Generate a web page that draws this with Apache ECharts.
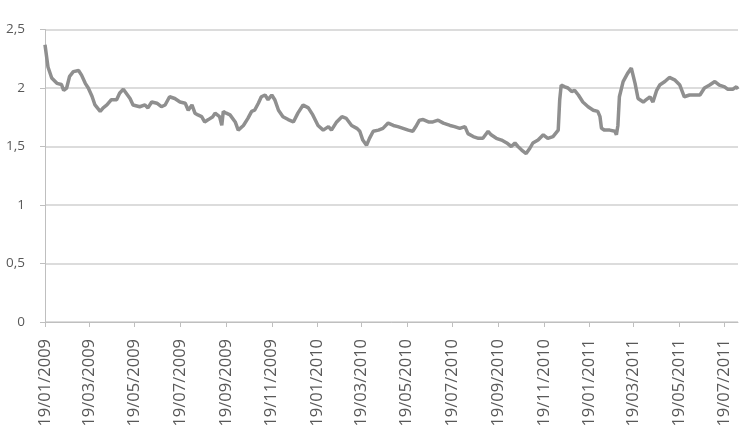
<!DOCTYPE html>
<html>
<head>
<meta charset="utf-8">
<script src="https://cdn.jsdelivr.net/npm/echarts@6/dist/echarts.min.js"></script>
<style>
  html, body { margin: 0; padding: 0; background: #fff; }
  #main { width: 743px; height: 435px; }
</style>
</head>
<body>
<div id="main"></div>
<script>
// first day on the axis and number of days shown
const startDate = [2009, 0, 19];
const dayCount = 930;

// x of each reading = days after 19/01/2009
const dayOffsets = [
  0, 4, 9, 16, 22, 25, 29, 33, 38, 45, 49, 54, 58, 63, 67, 74, 78, 83, 89, 96,
  100, 105, 107, 114, 118, 127, 134, 138, 143, 150, 156, 161, 167, 174, 181, 188, 192, 197, 201, 205,
  210, 214, 219, 225, 228, 234, 237, 239, 243, 248, 255, 259, 266, 272, 277, 281, 286, 290, 295, 299,
  304, 308, 313, 319, 326, 333, 339, 346, 353, 359, 366, 373, 380, 384, 391, 398, 404, 411, 418, 422,
  426, 431, 435, 440, 447, 453, 460, 467, 473, 480, 487, 493, 498, 502, 507, 514, 520, 527, 534, 543,
  549, 556, 563, 567, 574, 581, 587, 594, 598, 605, 612, 619, 625, 630, 634, 639, 645, 650, 654, 661,
  668, 674, 681, 683, 688, 690, 692, 697, 701, 706, 710, 715, 721, 728, 735, 741, 744, 746, 750, 757,
  764, 766, 768, 770, 775, 781, 786, 791, 795, 802, 806, 811, 815, 820, 824, 831, 837, 844, 851, 857,
  864, 871, 878, 884, 891, 898, 904, 911, 915, 922, 927, 929
];

const values = [
  2.37, 2.18, 2.085, 2.04, 2.03, 1.98, 2.0, 2.10, 2.14, 2.15, 2.11, 2.04, 2.0, 1.93, 1.855, 1.80, 1.83, 1.855, 1.90, 1.90,
  1.955, 1.99, 2.0, 1.91, 1.855, 1.84, 1.855, 1.83, 1.88, 1.87, 1.84, 1.855, 1.925, 1.91, 1.88, 1.87, 1.81, 1.855, 1.785, 1.77,
  1.755, 1.71, 1.73, 1.755, 1.785, 1.755, 1.68, 1.80, 1.785, 1.77, 1.71, 1.64, 1.68, 1.74, 1.80, 1.81, 1.87, 1.925, 1.94, 1.90,
  1.94, 1.90, 1.81, 1.755, 1.73, 1.71, 1.785, 1.855, 1.83, 1.77, 1.68, 1.64, 1.67, 1.64, 1.71, 1.755, 1.74, 1.68, 1.655, 1.63,
  1.555, 1.51, 1.57, 1.63, 1.64, 1.655, 1.70, 1.68, 1.67, 1.655, 1.64, 1.63, 1.68, 1.725, 1.73, 1.71, 1.71, 1.725, 1.70, 1.68,
  1.67, 1.655, 1.67, 1.61, 1.585, 1.57, 1.57, 1.63, 1.60, 1.57, 1.555, 1.53, 1.50, 1.53, 1.50, 1.47, 1.44, 1.485, 1.53, 1.555,
  1.60, 1.57, 1.585, 1.57, 1.64, 1.90, 2.025, 2.01, 2.0, 1.97, 1.98, 1.94, 1.88, 1.84, 1.81, 1.80, 1.755, 1.655, 1.64, 1.64,
  1.63, 1.60, 1.68, 1.925, 2.055, 2.125, 2.17, 2.04, 1.91, 1.88, 1.90, 1.925, 1.88, 1.98, 2.025, 2.055, 2.09, 2.07, 2.025, 1.925,
  1.94, 1.94, 1.94, 2.0, 2.025, 2.055, 2.025, 2.01, 1.99, 1.99, 2.01, 1.99
];

// labelled ticks on the date axis
const tickLabels = [
  '19/01/2009', '19/03/2009', '19/05/2009', '19/07/2009', '19/09/2009', '19/11/2009',
  '19/01/2010', '19/03/2010', '19/05/2010', '19/07/2010', '19/09/2010', '19/11/2010',
  '19/01/2011', '19/03/2011', '19/05/2011', '19/07/2011'
];

const pad = n => (n < 10 ? '0' : '') + n;
const categories = [];
for (let i = 0; i < dayCount; i++) {
  const d = new Date(Date.UTC(startDate[0], startDate[1], startDate[2] + i));
  categories.push(pad(d.getUTCDate()) + '/' + pad(d.getUTCMonth() + 1) + '/' + d.getUTCFullYear());
}
const isTick = (idx, name) => tickLabels.indexOf(name) >= 0;

const chart = echarts.init(document.getElementById('main'));
chart.setOption({
  animation: false,
  grid: { left: 45, right: 5, top: 29.5, bottom: 113 },
  xAxis: {
    type: 'category',
    data: categories,
    boundaryGap: false,
    axisLine: { lineStyle: { color: '#bfbfbf', width: 1 } },
    axisTick: { show: true, interval: isTick, length: 5, lineStyle: { color: '#bfbfbf' } },
    axisLabel: {
      interval: isTick,
      rotate: 90,
      margin: 17,
      color: '#595959',
      fontFamily: 'Open Sans',
      fontSize: 16.5
    },
    splitLine: { show: false }
  },
  yAxis: {
    type: 'value',
    min: 0,
    max: 2.5,
    interval: 0.5,
    axisLine: { show: true, lineStyle: { color: '#bfbfbf', width: 1 } },
    axisTick: { show: true, length: 5, lineStyle: { color: '#bfbfbf' } },
    axisLabel: {
      margin: 20,
      color: '#595959',
      fontFamily: 'Open Sans',
      fontSize: 13.5,
      formatter: v => String(v).replace('.', ',')
    },
    splitLine: { lineStyle: { color: '#d0d0d0', width: 1.5 } }
  },
  series: [{
    type: 'line',
    data: dayOffsets.map((d, i) => [d, values[i]]),
    showSymbol: false,
    smooth: false,
    lineStyle: { color: '#8f8f8f', width: 3.5 }
  }]
});
</script>
</body>
</html>
